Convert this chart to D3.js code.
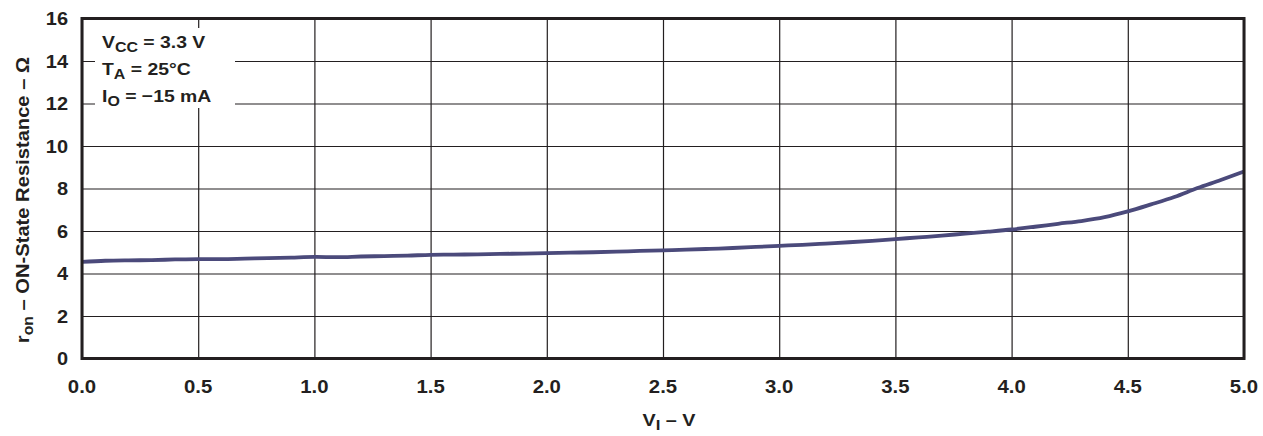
<!DOCTYPE html>
<html>
<head>
<meta charset="utf-8">
<script src="https://cdn.jsdelivr.net/npm/d3@7"></script>
<style>
  body { margin: 0; background: #fff; }
  text { font-family: "Liberation Sans", Arial, sans-serif; font-weight: bold; fill: #231f20; }
</style>
</head>
<body>
<svg id="chart" width="1263" height="436"></svg>
<script>
// data
var voltage = [0.0, 0.1, 0.2, 0.3, 0.4, 0.5, 0.6, 0.7, 0.8, 0.9,
               1.0, 1.1, 1.2, 1.3, 1.4, 1.5, 1.6, 1.7, 1.8, 1.9,
               2.0, 2.1, 2.2, 2.3, 2.4, 2.5, 2.6, 2.7, 2.8, 2.9,
               3.0, 3.1, 3.2, 3.3, 3.4, 3.5, 3.6, 3.7, 3.8, 3.9,
               4.0, 4.1, 4.2, 4.3, 4.4, 4.5, 4.6, 4.7, 4.8, 4.9, 5.0];
var resistance = [4.55, 4.60, 4.62, 4.63, 4.66, 4.68, 4.68, 4.70, 4.72, 4.75,
                  4.78, 4.77, 4.80, 4.82, 4.84, 4.88, 4.89, 4.90, 4.92, 4.94,
                  4.96, 4.98, 5.00, 5.03, 5.06, 5.09, 5.12, 5.16, 5.20, 5.25,
                  5.30, 5.35, 5.41, 5.47, 5.54, 5.62, 5.70, 5.78, 5.88, 5.97,
                  6.07, 6.20, 6.34, 6.47, 6.65, 6.92, 7.25, 7.60, 8.02, 8.40, 8.80];
var xTicks = [0, 0.5, 1, 1.5, 2, 2.5, 3, 3.5, 4, 4.5, 5];
var yTicks = [0, 2, 4, 6, 8, 10, 12, 14, 16];

function drawChart()
{
    const left = 82, right = 1244, top = 18.5, bottom = 358.5;
    var svg = d3.select("#chart");

    var xScale = d3.scaleLinear().domain([0, 5]).range([left, right]);
    var yScale = d3.scaleLinear().domain([0, 16]).range([bottom, top]);

    // grid lines
    svg.append("g")
        .attr("transform", `translate(0, ${bottom})`)
        .call(d3.axisBottom(xScale).tickValues(xTicks).tickSize(-(bottom - top)).tickFormat(""));
    svg.append("g")
        .attr("transform", `translate(${left}, 0)`)
        .call(d3.axisLeft(yScale).tickValues(yTicks).tickSize(-(right - left)).tickFormat(""));
    svg.selectAll(".domain").remove();
    svg.selectAll(".tick line").attr("stroke", "#231f20").attr("stroke-width", 1.2);

    // tick labels (reference type is a bit wider than Arial, so stretch it)
    svg.append("g").selectAll("text")
        .data(xTicks).enter().append("text")
        .attr("transform", d => `translate(${xScale(d)}, 393) scale(1.1, 1)`)
        .attr("text-anchor", "middle")
        .style("font-size", "18.5px")
        .text(d => d3.format(".1f")(d));

    svg.append("g").selectAll("text")
        .data(yTicks).enter().append("text")
        .attr("transform", d => `translate(68, ${yScale(d) + 6.5}) scale(1.08, 1)`)
        .attr("text-anchor", "end")
        .style("font-size", "18.5px")
        .text(d => d);

    // curve
    var pts = voltage.map((v, i) => [v, resistance[i]]);
    var line = d3.line()
        .x(d => xScale(d[0]))
        .y(d => yScale(d[1]))
        .curve(d3.curveMonotoneX);
    svg.append("path")
        .attr("d", line(pts))
        .attr("fill", "none")
        .attr("stroke", "#4b4a7b")
        .attr("stroke-width", 3.8);

    // legend box covering the grid
    svg.append("rect")
        .attr("x", 95).attr("y", 28)
        .attr("width", 140).attr("height", 80)
        .attr("fill", "#fff");

    var legend = [
        ["V", "CC", " = 3.3 V", 48],
        ["T", "A", " = 25°C", 75],
        ["I", "O", " = −15 mA", 102]
    ];
    legend.forEach(function (l)
    {
        var t = svg.append("text")
            .attr("transform", `translate(102, ${l[3]}) scale(1.14, 1)`)
            .style("font-size", "17px");
        t.append("tspan").text(l[0]);
        t.append("tspan").attr("dy", 4).style("font-size", "14px").text(l[1]);
        t.append("tspan").attr("dy", -4).text(l[2]);
    });

    // frame
    svg.append("rect")
        .attr("x", left).attr("y", top)
        .attr("width", right - left).attr("height", bottom - top)
        .attr("fill", "none")
        .attr("stroke", "#231f20")
        .attr("stroke-width", 3);

    // axis titles
    var xt = svg.append("text")
        .attr("transform", "translate(669, 426) scale(1.2, 1)")
        .attr("text-anchor", "middle")
        .style("font-size", "16.5px");
    xt.append("tspan").text("V");
    xt.append("tspan").attr("dy", 4).style("font-size", "14px").text("I");
    xt.append("tspan").attr("dy", -4).text(" – V");

    var yt = svg.append("text")
        .attr("transform", "translate(29, 200) rotate(-90) scale(1.12, 1)")
        .attr("text-anchor", "middle")
        .style("font-size", "18px");
    yt.append("tspan").text("r");
    yt.append("tspan").attr("dy", 4).style("font-size", "14px").text("on");
    yt.append("tspan").attr("dy", -4).text(" – ON-State Resistance – Ω");
}

drawChart();
</script>
</body>
</html>
